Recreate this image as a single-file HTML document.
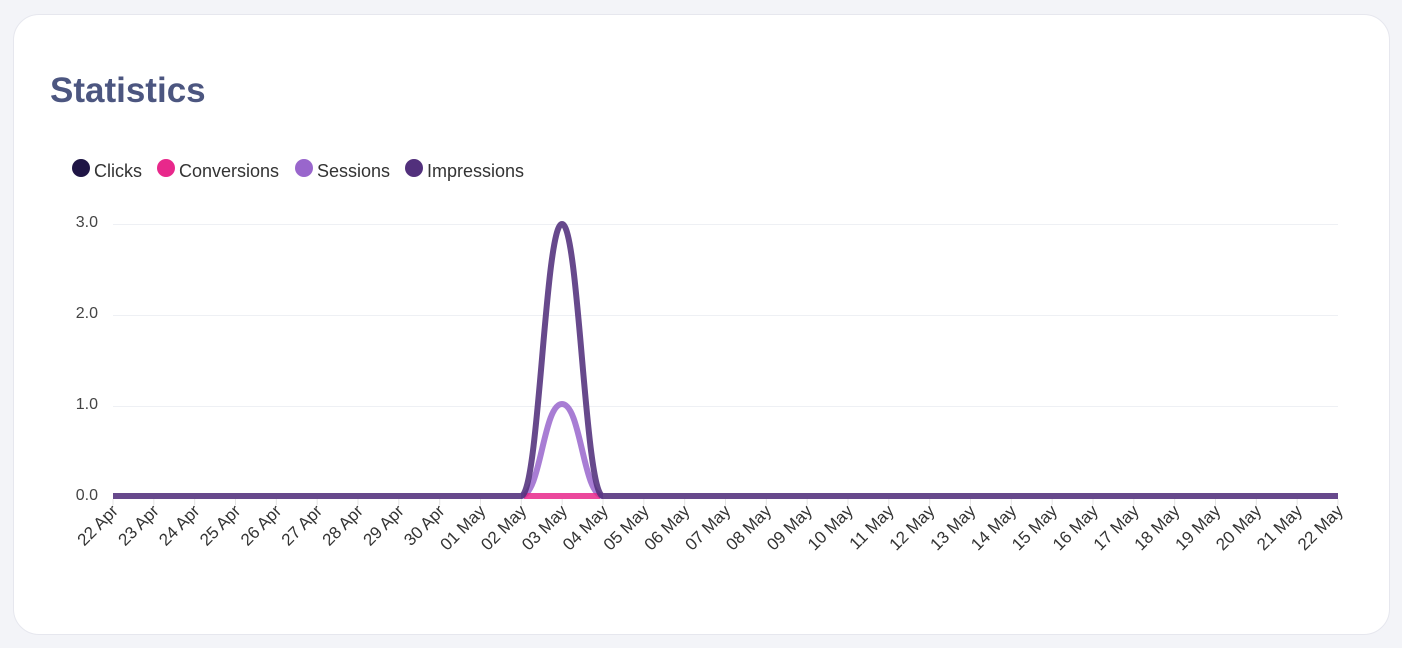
<!DOCTYPE html>
<html><head><meta charset="utf-8"><style>
html,body{margin:0;padding:0;background:#f3f4f8;width:1402px;height:648px;overflow:hidden}
.card{position:absolute;left:13px;top:14px;width:1375px;height:619px;background:#fff;border:1px solid #e6e7ee;border-radius:26px}
h1{position:absolute;left:50px;top:71px;margin:0;font:bold 35px "Liberation Sans",sans-serif;color:#4c5680}
svg{position:absolute;left:0;top:0}
</style></head><body>
<div class="card"></div>
<h1>Statistics</h1>
<svg width="1402" height="648" font-family="Liberation Sans, sans-serif">
<g font-size="18" fill="#333">
<circle cx="81" cy="168" r="9" fill="#1f1545"/><text x="94" y="177">Clicks</text>
<circle cx="166" cy="168" r="9" fill="#e8288b"/><text x="179" y="177">Conversions</text>
<circle cx="304" cy="168" r="9" fill="#9966cc"/><text x="317" y="177">Sessions</text>
<circle cx="414" cy="168" r="9" fill="#52307c"/><text x="427" y="177">Impressions</text>
</g>
<g stroke="#eef0f4" stroke-width="1">
<line x1="113" x2="1338" y1="224.5" y2="224.5"/>
<line x1="113" x2="1338" y1="315.5" y2="315.5"/>
<line x1="113" x2="1338" y1="406.5" y2="406.5"/>
</g>
<g font-size="16" fill="#444" text-anchor="end">
<text x="98" y="227">3.0</text><text x="98" y="318">2.0</text><text x="98" y="409">1.0</text><text x="98" y="500">0.0</text>
</g>
<g id="ticks" stroke="#e4e4e4" stroke-width="1"></g>
<g id="labels" font-size="17" fill="#333" text-anchor="end"></g>
<path d="M521,496 C541,496 543,404 562,404 C581,404 583,496 603,496" fill="none" stroke="#9966cc" stroke-width="6" opacity="0.85"/>
<line x1="524" x2="600" y1="496" y2="496" stroke="#e8288b" stroke-width="6" opacity="0.85"/>
<path d="M113,496 L521,496 C539,496 545,224 562,224 C579,224 585,496 603,496 L1338,496" fill="none" stroke="#52307c" stroke-width="6" opacity="0.88"/>
</svg>
<script>
var d=[];for(var i=22;i<=30;i++)d.push(i+" Apr");for(var i=1;i<=22;i++)d.push((i<10?"0":"")+i+" May");
var t=document.getElementById("ticks"),l=document.getElementById("labels"),ns="http://www.w3.org/2000/svg";
d.forEach(function(s,i){var x=113+i*1225/30;
var ln=document.createElementNS(ns,"line");ln.setAttribute("x1",x);ln.setAttribute("x2",x);ln.setAttribute("y1",499);ln.setAttribute("y2",505);t.appendChild(ln);
var tx=document.createElementNS(ns,"text");tx.setAttribute("transform","translate("+(x+6)+",512) rotate(-45)");tx.textContent=s;l.appendChild(tx);});
</script>
</body></html>
